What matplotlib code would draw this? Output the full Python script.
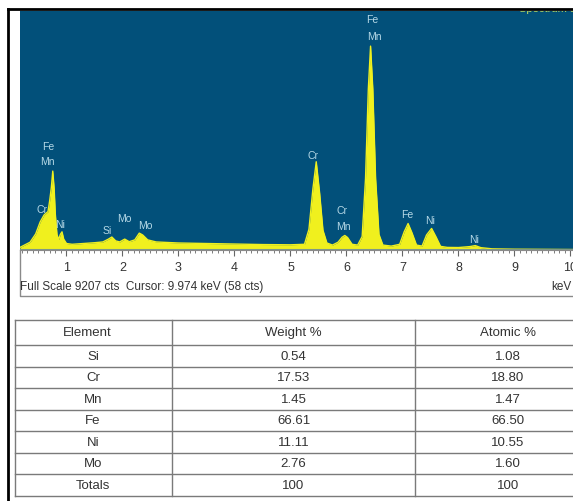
import matplotlib
matplotlib.use("Agg")
import matplotlib.pyplot as plt
from matplotlib.ticker import MultipleLocator

plt.rcParams['font.family'] = ['Liberation Sans', 'DejaVu Sans']

# EDS spectrum (energy in keV, counts)
energy = [0.17, 0.25, 0.35, 0.45, 0.53, 0.60, 0.67, 0.70, 0.73, 0.755,
          0.78, 0.80, 0.83, 0.86, 0.89, 0.92, 0.95, 1.00, 1.10, 1.30,
          1.50, 1.65, 1.75, 1.81, 1.88, 1.95, 2.04, 2.12, 2.22, 2.30,
          2.36, 2.45, 2.60, 3.00, 3.50, 4.00, 4.50, 5.00, 5.25, 5.33,
          5.40, 5.46, 5.52, 5.58, 5.65, 5.75, 5.85, 5.92, 5.97, 6.02,
          6.10, 6.20, 6.28, 6.34, 6.39, 6.43, 6.47, 6.52, 6.58, 6.65,
          6.80, 6.95, 7.03, 7.10, 7.17, 7.25, 7.35, 7.43, 7.52, 7.60,
          7.68, 7.80, 8.00, 8.20, 8.30, 8.40, 8.60, 9.00, 10.05]
counts = [100, 190, 300, 620, 1080, 1350, 1480, 1900, 2420, 3040,
          2350, 1400, 600, 400, 600, 700, 420, 250, 220, 250,
          280, 310, 420, 500, 350, 310, 420, 320, 390, 650,
          580, 390, 310, 270, 250, 230, 210, 200, 220, 800,
          2350, 3400, 2200, 760, 270, 190, 300, 490, 560, 480,
          220, 190, 520, 2750, 6200, 7854, 6200, 2750, 600, 190,
          150, 220, 700, 1020, 660, 190, 150, 580, 830, 500,
          140, 100, 95, 130, 170, 90, 45, 31, 19]

full_scale = 9207

# peak labels: text, energy, counts
peak_text = ['Fe', 'Mn', 'Cr', 'Ni', 'Si', 'Mo', 'Mo', 'Cr', 'Cr', 'Mn',
             'Fe', 'Mn', 'Fe', 'Ni', 'Ni']
peak_e = [0.67, 0.65, 0.57, 0.88, 1.72, 2.03, 2.40, 5.40, 5.92, 5.94,
          6.46, 6.49, 7.08, 7.49, 8.28]
peak_c = [4004, 3427, 1580, 1000, 770, 1232, 963, 3660, 1540, 924,
          8890, 8240, 1386, 1155, 424]

# quantification table
elements = ['Si', 'Cr', 'Mn', 'Fe', 'Ni', 'Mo', 'Totals']
weight = ['0.54', '17.53', '1.45', '66.61', '11.11', '2.76', '100']
atomic = ['1.08', '18.80', '1.47', '66.50', '10.55', '1.60', '100']

W, H = 573, 502
fig = plt.figure(figsize=(W / 100, H / 100), dpi=100)

# pixel-space layer for frame and table
bg = fig.add_axes([0, 0, 1, 1])
bg.set_xlim(0, W)
bg.set_ylim(H, 0)
bg.axis('off')

bg.plot([8, W], [10, 10], color='black', lw=2)
bg.plot([8, 8], [10, H], color='black', lw=2)
# box round the energy scale strip
bg.plot([20, 20, W], [251, 297, 297], color='#8a8a8a', lw=1)

tcol = '#333333'
lcol = '#7a7a7a'
x_edges = [15, 172, 415, 601]
y_top, y_head = 321, 346
row_h = 21.5
y_rows = [y_head + row_h * i for i in range(len(elements) + 1)]
for x in x_edges:
    bg.plot([x, x], [y_top, y_rows[-1]], color=lcol, lw=1)
for y in [y_top] + y_rows:
    bg.plot([x_edges[0], x_edges[-1]], [y, y], color=lcol, lw=1)
centers = [87, (x_edges[1] + x_edges[2]) / 2, 508]
for cx, t in zip(centers, ['Element', 'Weight %', 'Atomic %']):
    bg.text(cx, (y_top + y_head) / 2, t, ha='center', va='center', fontsize=9.5, color=tcol)
for i, (el, w, a) in enumerate(zip(elements, weight, atomic)):
    cy = y_rows[i] + row_h / 2
    bg.text(93, cy, el, ha='center', va='center', fontsize=9.5, color=tcol)
    bg.text(centers[1], cy, w, ha='center', va='center', fontsize=9.5, color=tcol)
    bg.text(centers[2], cy, a, ha='center', va='center', fontsize=9.5, color=tcol)

bg.text(20, 287, 'Full Scale 9207 cts  Cursor: 9.974 keV (58 cts)', ha='left', va='center',
        fontsize=8.5, color=tcol)
bg.text(W - 1, 287, 'keV', ha='right', va='center', fontsize=8.5, color=tcol)

# spectrum
ax = fig.add_axes([20 / W, 1 - 251 / H, (W - 20) / W, 239 / H])
ax.set_facecolor('#02507a')
ax.fill_between(energy, counts, 0, color='#f0f01e', lw=0)
ax.plot(energy, counts, color='#f0f01e', lw=1.0)
ax.axhline(0, color='#7f9a86', lw=1.5)
ax.set_xlim(0.17, 10.045)
ax.set_ylim(0, full_scale)

for t, e, c in zip(peak_text, peak_e, peak_c):
    ax.text(e, c, t, ha='center', va='center', fontsize=7.5, color='#b5d8e6')
ax.text(9.6, 9330, 'Spectrum 1', ha='center', va='center', fontsize=8,
        color='#b8d860', clip_on=True)

for s in ['top', 'right', 'left']:
    ax.spines[s].set_visible(False)
ax.spines['bottom'].set_color('#8a8a8a')
ax.yaxis.set_visible(False)
ax.xaxis.set_major_locator(MultipleLocator(1))
ax.xaxis.set_minor_locator(MultipleLocator(0.1))
ax.tick_params(axis='x', which='major', length=4, width=0.8, color='#666666',
               labelsize=9, labelcolor=tcol, pad=4)
ax.tick_params(axis='x', which='minor', length=2.5, width=0.6, color='#666666')
ax.set_xticks(range(1, 11))
ax.set_xticklabels([str(i) for i in range(1, 11)])

fig.savefig('out.png', dpi=100)
